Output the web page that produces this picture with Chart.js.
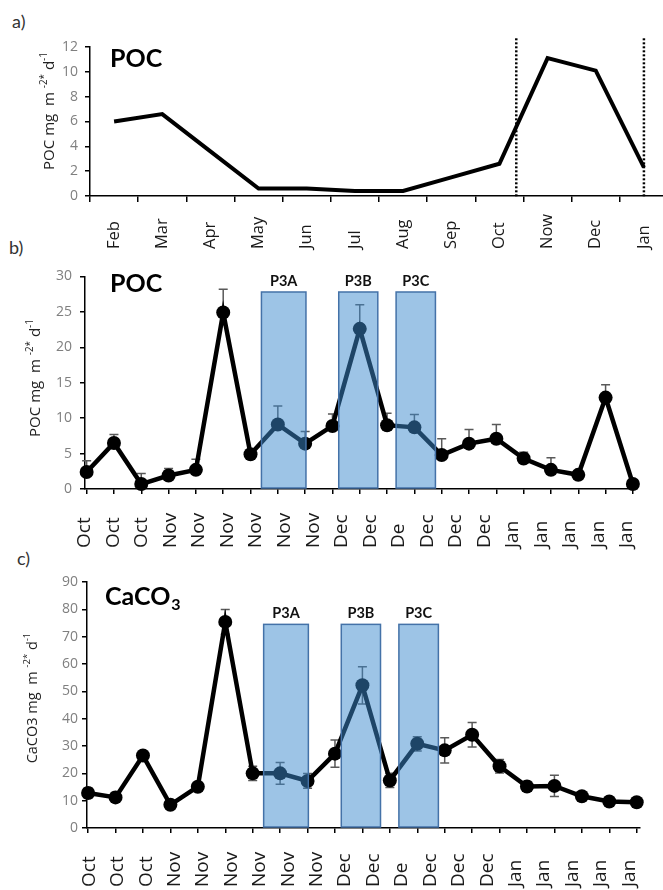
<!DOCTYPE html>
<html><head><meta charset="utf-8">
<script src="https://cdn.jsdelivr.net/npm/chart.js@4.4.1/dist/chart.umd.min.js"></script>
<style>
html,body{margin:0;padding:0;background:#fff;}
body{width:663px;height:890px;overflow:hidden;position:relative;}
canvas{position:absolute;left:0;}
.plabel{position:absolute;font-family:'Lato','Open Sans',sans-serif;font-size:18px;line-height:1;color:#333;}
</style></head><body>
<div class="plabel" style="left:12px;top:12px">a)</div>
<div class="plabel" style="left:9px;top:238px">b)</div>
<div class="plabel" style="left:17px;top:549px">c)</div>
<canvas id="ca" width="672" height="260" style="top:0"></canvas>
<canvas id="cb" width="663" height="300" style="top:260px"></canvas>
<canvas id="cc" width="663" height="330" style="top:560px"></canvas>
<script>
// ---------- DATA ----------
const monthsA = ['Feb','Mar','Apr','May','Jun','Jul','Aug','Sep','Oct','Now','Dec','Jan'];
const pocMonthly = [6.0, 6.6, 3.6, 0.6, 0.6, 0.4, 0.4, 1.5, 2.6, 11.1, 10.1, 2.3];
const dividerAt = [8.35, 11];           // dotted separators, in month-index units
const yTicksA = [0, 2, 4, 6, 8, 10, 12];

const sampleLabels = ['Oct','Oct','Oct','Nov','Nov','Nov','Nov','Nov','Nov','Dec','Dec','De','Dec','Dec','Dec','Jan','Jan','Jan','Jan','Jan'];
const pocFlux    = [2.4, 6.5, 0.7, 1.9, 2.7, 24.9, 4.9, 9.1, 6.4, 8.9, 22.6, 9.0, 8.7, 4.8, 6.4, 7.1, 4.3, 2.7, 2.0, 12.9, 0.7];
const pocFluxErr = [1.6, 1.2, 1.5, 1.0, 1.5, 3.3, 0, 2.6, 1.7, 1.7, 3.4, 1.7, 1.8, 2.3, 2.0, 2.0, 0.9, 1.7, 0, 1.8, 0];
const caco3Flux    = [12.8, 11.2, 26.5, 8.5, 15.1, 75.4, 20.0, 20.0, 17.2, 27.2, 52.2, 17.4, 30.8, 28.4, 34.1, 22.6, 15.2, 15.4, 11.6, 9.7, 9.4];
const caco3FluxErr = [1.8, 1.8, 0, 0, 0.8, 4.5, 2.6, 4.0, 2.7, 5.0, 6.8, 2.6, 2.6, 4.6, 4.5, 2.5, 1.8, 3.9, 1.2, 0.8, 0];
const yTicksB = [0, 5, 10, 15, 20, 25, 30];
const yTicksC = [0, 10, 20, 30, 40, 50, 60, 70, 80, 90];

const periodNames = ['P3A', 'P3B', 'P3C'];
const periodFrom  = [6.4, 9.23, 11.33];   // sample-index units
const periodTo    = [8.03, 10.66, 12.77];
const periodTopPOC = 27.8, periodTopCaCO3 = 74.5;

// ---------- STYLE ----------
const SANS = "'Open Sans','DejaVu Sans',sans-serif";
const BOLD = "'Lato','Open Sans',sans-serif";
Chart.defaults.font.family = SANS;
Chart.defaults.animation = false;

function yAxis(ticks, width, pad) {
  return {
    min: ticks[0], max: ticks[ticks.length - 1],
    ticks: { stepSize: ticks[1] - ticks[0], color: '#7f7f7f', font: { size: 14 }, padding: pad },
    grid: { drawOnChartArea: false, drawTicks: true, tickLength: 5, color: '#000', lineWidth: 1.5 },
    border: { display: true, color: '#000', width: 1.5 },
    afterFit: s => { s.width = width; }
  };
}

function drawYTitle(ctx, parts, cx, cy, size) {
  const sup = size * 0.66;
  ctx.save();
  let total = 0;
  const w = parts.map(p => { ctx.font = (p.sup ? sup : size) + 'px ' + SANS; const m = ctx.measureText(p.t).width; total += m; return m; });
  ctx.translate(cx, cy); ctx.rotate(-Math.PI / 2);
  ctx.fillStyle = '#222'; ctx.textBaseline = 'middle'; ctx.textAlign = 'left';
  let x = -total / 2;
  parts.forEach((p, i) => {
    ctx.font = (p.sup ? sup : size) + 'px ' + SANS;
    ctx.fillText(p.t, x, p.sup ? -size * 0.38 : 0);
    x += w[i];
  });
  ctx.restore();
}

function drawXLabels(ctx, scale, labels, bottom, size) {
  ctx.save();
  ctx.font = size + 'px ' + SANS; ctx.fillStyle = '#1a1a1a';
  ctx.textAlign = 'left'; ctx.textBaseline = 'middle';
  labels.forEach((l, i) => {
    const x = scale.getPixelForValue(i);
    ctx.save(); ctx.translate(x, bottom); ctx.rotate(-Math.PI / 2); ctx.fillText(l, 0, 0); ctx.restore();
  });
  ctx.restore();
}

function drawTitle(ctx, main, sub, x, y) {
  ctx.save();
  ctx.fillStyle = '#000'; ctx.textBaseline = 'alphabetic'; ctx.textAlign = 'left';
  ctx.font = 'bold 25px ' + BOLD;
  ctx.fillText(main, x, y);
  if (sub) { const w = ctx.measureText(main).width; ctx.font = 'bold 16px ' + BOLD; ctx.fillText(sub, x + w + 1, y + 5); }
  ctx.restore();
}

const titleParts = first => [{ t: first + ' mg  m ' }, { t: '-2*', sup: true }, { t: ' d' }, { t: '-1', sup: true }];

// ---------- PANEL A ----------
new Chart(document.getElementById('ca'), {
  type: 'line',
  data: { labels: monthsA, datasets: [{ data: pocMonthly, borderColor: '#000', borderWidth: 4, pointRadius: 0, tension: 0, clip: false }] },
  options: {
    responsive: false,
    layout: { padding: { top: 47, right: 4, left: 0, bottom: 0 } },
    plugins: { legend: { display: false }, tooltip: { enabled: false } },
    scales: {
      x: { type: 'category', offset: true,
        ticks: { display: false },
        grid: { offset: true, drawOnChartArea: false, tickLength: 6, color: '#000', lineWidth: 1.5 },
        border: { color: '#000', width: 1.5 },
        afterFit: s => { s.height = 64; } },
      y: yAxis(yTicksA, 90, 7)
    }
  },
  plugins: [{
    id: 'decorA',
    afterDraw(chart) {
      const ctx = chart.ctx, xs = chart.scales.x, ys = chart.scales.y;
      ctx.save();
      ctx.strokeStyle = '#000'; ctx.lineWidth = 2.5; ctx.setLineDash([2, 2]);
      dividerAt.forEach(v => {
        const x = xs.getPixelForValue(v);
        ctx.beginPath(); ctx.moveTo(x, ys.getPixelForValue(12.7)); ctx.lineTo(x, ys.getPixelForValue(0) + 2); ctx.stroke();
      });
      ctx.restore();
      drawXLabels(ctx, xs, monthsA, 249, 16.5);
      drawYTitle(ctx, titleParts('POC'), 50, 111, 15);
      drawTitle(ctx, 'POC', null, 110, 67);
    }
  }]
});

// ---------- PANELS B / C ----------
function seriesChart(id, values, errs, plusOnly, yTicks, boxTop, cfg) {
  new Chart(document.getElementById(id), {
    type: 'line',
    data: { datasets: [{
      data: values.map((v, i) => ({ x: i, y: v })),
      borderColor: '#000', borderWidth: 4.5, pointRadius: 7, pointBackgroundColor: '#000',
      pointBorderWidth: 0, tension: 0, clip: false
    }] },
    options: {
      responsive: false,
      layout: { padding: { top: cfg.padTop, right: cfg.padRight, left: 0, bottom: 0 } },
      plugins: { legend: { display: false }, tooltip: { enabled: false } },
      scales: {
        x: { type: 'linear', min: cfg.xMin, max: cfg.xMax,
          ticks: { display: false, stepSize: 1, includeBounds: false },
          grid: { drawOnChartArea: false, tickLength: 5, color: '#000', lineWidth: 1.5 },
          border: { color: '#000', width: 1.5 },
          afterFit: s => { s.height = cfg.xH; } },
        xl: { type: 'linear', display: false, min: cfg.lMin, max: cfg.lMax },
        y: yAxis(yTicks, cfg.yW, cfg.yPad)
      }
    },
    plugins: [{
      id: 'decor' + id,
      beforeDatasetsDraw(chart) {
        const ctx = chart.ctx, xs = chart.scales.x, ys = chart.scales.y;
        ctx.save(); ctx.strokeStyle = '#595959'; ctx.lineWidth = 1.5;
        values.forEach((v, i) => {
          const e = errs[i]; if (!e) return;
          const x = xs.getPixelForValue(i), y1 = ys.getPixelForValue(v + e);
          const y0 = plusOnly ? ys.getPixelForValue(v) : ys.getPixelForValue(v - e);
          ctx.beginPath(); ctx.moveTo(x, y0); ctx.lineTo(x, y1);
          ctx.moveTo(x - 4.5, y1); ctx.lineTo(x + 4.5, y1);
          if (!plusOnly) { ctx.moveTo(x - 4.5, y0); ctx.lineTo(x + 4.5, y0); }
          ctx.stroke();
        });
        ctx.restore();
      },
      afterDatasetsDraw(chart) {
        const ctx = chart.ctx, xs = chart.scales.x, ys = chart.scales.y;
        ctx.save();
        periodNames.forEach((n, i) => {
          const l = xs.getPixelForValue(periodFrom[i]), r = xs.getPixelForValue(periodTo[i]);
          const t = ys.getPixelForValue(boxTop), b = ys.getPixelForValue(0) - 1;
          ctx.fillStyle = 'rgba(60,137,205,0.5)';
          ctx.fillRect(l, t, r - l, b - t);
          ctx.strokeStyle = '#4472a8'; ctx.lineWidth = 1.5;
          ctx.strokeRect(l, t, r - l, b - t);
          ctx.fillStyle = '#111'; ctx.font = 'bold 14.5px ' + BOLD; ctx.textAlign = 'center'; ctx.textBaseline = 'alphabetic';
          ctx.fillText(n, (l + r) / 2, t - 6);
        });
        ctx.restore();
      },
      afterDraw(chart) {
        const ctx = chart.ctx;
        drawXLabels(ctx, chart.scales.xl, sampleLabels, cfg.labBottom, 19);
        drawYTitle(ctx, titleParts(cfg.yName), cfg.tX, cfg.tY, cfg.tSize);
        drawTitle(ctx, cfg.title, cfg.titleSub, cfg.titleX, cfg.titleY);
      }
    }]
  });
}

seriesChart('cb', pocFlux, pocFluxErr, true, yTicksB, periodTopPOC, {
  padTop: 8, padRight: 26, xMin: -0.06, xMax: 20.15, xH: 71, lMin: 0, lMax: 19.36,
  yW: 85, yPad: 8, labBottom: 288, yName: 'POC', tX: 36, tY: 118, tSize: 15,
  title: 'POC', titleSub: null, titleX: 110, titleY: 32
});
seriesChart('cc', caco3Flux, caco3FluxErr, false, yTicksC, periodTopCaCO3, {
  padTop: 22, padRight: 23, xMin: -0.04, xMax: 20.12, xH: 62, lMin: -0.08, lMax: 19.38,
  yW: 87, yPad: 4, labBottom: 327, yName: 'CaCO3', tX: 33, tY: 138, tSize: 14.5,
  title: 'CaCO', titleSub: '3', titleX: 105, titleY: 45
});
</script>
</body></html>
